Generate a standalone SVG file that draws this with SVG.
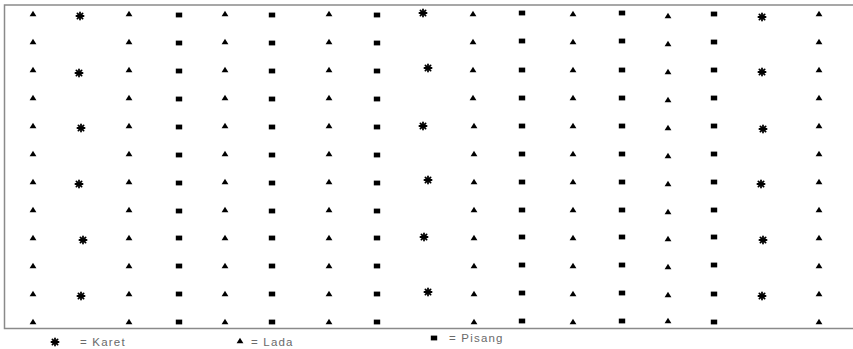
<svg xmlns="http://www.w3.org/2000/svg" xmlns:xlink="http://www.w3.org/1999/xlink" width="853" height="349" viewBox="0 0 853 349">
<style>
.frame{fill:none;stroke:#8a8a8a;stroke-width:1.5}
.lbl{font-family:"Liberation Sans",Arial,sans-serif;font-size:11.5px;fill:#6a6a6a;letter-spacing:1.2px}
</style>
<defs>
<path id="T" d="M0,-3.2 L3.4,2.3 L-3.4,2.3 Z" fill="#000"/>
<rect id="S" x="-3.2" y="-2.4" width="6.4" height="4.8" fill="#000"/>
<g id="K" stroke="#000" stroke-width="1.8" stroke-linecap="round">
<line x1="0" y1="-3.6" x2="0" y2="3.6"/>
<line x1="-3.6" y1="0" x2="3.6" y2="0"/>
<line x1="-2.6" y1="-2.6" x2="2.6" y2="2.6"/>
<line x1="-2.6" y1="2.6" x2="2.6" y2="-2.6"/>
</g>
</defs>
<rect width="853" height="349" fill="#fff"/>
<g id="frame">
<path class="frame" d="M853,5 L4.5,5 L4.5,328.5 L853,328.5"/>
</g>
<g id="col1">
<use href="#T" x="33" y="14"/><use href="#T" x="33" y="42"/><use href="#T" x="33" y="70"/><use href="#T" x="33" y="98"/><use href="#T" x="33" y="126"/><use href="#T" x="33" y="154"/><use href="#T" x="33" y="182"/><use href="#T" x="33" y="210"/><use href="#T" x="33" y="238"/><use href="#T" x="33" y="266"/><use href="#T" x="33" y="294"/><use href="#T" x="33" y="322"/>
</g>
<g id="col2">
<use href="#K" x="80" y="16"/><use href="#K" x="79" y="73"/><use href="#K" x="81" y="128"/><use href="#K" x="79" y="184"/><use href="#K" x="83" y="240"/><use href="#K" x="81" y="296"/>
</g>
<g id="col3">
<use href="#T" x="129" y="14"/><use href="#T" x="129" y="42"/><use href="#T" x="129" y="70"/><use href="#T" x="129" y="98"/><use href="#T" x="129" y="126"/><use href="#T" x="129" y="154"/><use href="#T" x="129" y="182"/><use href="#T" x="129" y="210"/><use href="#T" x="129" y="238"/><use href="#T" x="129" y="266"/><use href="#T" x="129" y="294"/><use href="#T" x="129" y="322"/>
</g>
<g id="col4">
<use href="#S" x="179" y="15"/><use href="#S" x="179" y="43"/><use href="#S" x="179" y="71"/><use href="#S" x="179" y="99"/><use href="#S" x="179" y="127"/><use href="#S" x="179" y="155"/><use href="#S" x="179" y="183"/><use href="#S" x="179" y="211"/><use href="#S" x="179" y="238"/><use href="#S" x="179" y="266"/><use href="#S" x="179" y="294"/><use href="#S" x="179" y="322"/>
</g>
<g id="col5">
<use href="#T" x="225" y="14"/><use href="#T" x="225" y="42"/><use href="#T" x="225" y="70"/><use href="#T" x="225" y="98"/><use href="#T" x="225" y="126"/><use href="#T" x="225" y="154"/><use href="#T" x="225" y="182"/><use href="#T" x="225" y="210"/><use href="#T" x="225" y="238"/><use href="#T" x="225" y="266"/><use href="#T" x="225" y="294"/><use href="#T" x="225" y="322"/>
</g>
<g id="col6">
<use href="#S" x="272" y="15"/><use href="#S" x="272" y="43"/><use href="#S" x="272" y="71"/><use href="#S" x="272" y="99"/><use href="#S" x="272" y="127"/><use href="#S" x="272" y="155"/><use href="#S" x="272" y="183"/><use href="#S" x="272" y="211"/><use href="#S" x="272" y="238"/><use href="#S" x="272" y="266"/><use href="#S" x="272" y="294"/><use href="#S" x="272" y="322"/>
</g>
<g id="col7">
<use href="#T" x="329" y="14"/><use href="#T" x="329" y="42"/><use href="#T" x="329" y="70"/><use href="#T" x="329" y="98"/><use href="#T" x="329" y="126"/><use href="#T" x="329" y="154"/><use href="#T" x="329" y="182"/><use href="#T" x="329" y="210"/><use href="#T" x="329" y="238"/><use href="#T" x="329" y="266"/><use href="#T" x="329" y="294"/><use href="#T" x="329" y="322"/>
</g>
<g id="col8">
<use href="#S" x="377" y="15"/><use href="#S" x="377" y="43"/><use href="#S" x="377" y="71"/><use href="#S" x="377" y="99"/><use href="#S" x="377" y="127"/><use href="#S" x="377" y="155"/><use href="#S" x="377" y="183"/><use href="#S" x="377" y="211"/><use href="#S" x="377" y="238"/><use href="#S" x="377" y="266"/><use href="#S" x="377" y="294"/><use href="#S" x="377" y="322"/>
</g>
<g id="col9">
<use href="#K" x="423" y="13"/><use href="#K" x="428" y="68"/><use href="#K" x="423" y="126"/><use href="#K" x="428" y="180"/><use href="#K" x="424" y="237"/><use href="#K" x="428" y="292"/>
</g>
<g id="col10">
<use href="#T" x="473" y="14"/><use href="#T" x="473" y="42"/><use href="#T" x="473" y="70"/><use href="#T" x="473" y="98"/><use href="#T" x="474" y="126"/><use href="#T" x="474" y="154"/><use href="#T" x="474" y="182"/><use href="#T" x="474" y="210"/><use href="#T" x="474" y="238"/><use href="#T" x="474" y="266"/><use href="#T" x="474" y="294"/><use href="#T" x="474" y="322"/>
</g>
<g id="col11">
<use href="#S" x="522" y="13"/><use href="#S" x="522" y="41"/><use href="#S" x="522" y="70"/><use href="#S" x="522" y="98"/><use href="#S" x="522" y="126"/><use href="#S" x="522" y="154"/><use href="#S" x="522" y="182"/><use href="#S" x="522" y="210"/><use href="#S" x="522" y="237"/><use href="#S" x="522" y="265"/><use href="#S" x="522" y="293"/><use href="#S" x="522" y="321"/>
</g>
<g id="col12">
<use href="#T" x="573" y="14"/><use href="#T" x="573" y="42"/><use href="#T" x="573" y="70"/><use href="#T" x="573" y="98"/><use href="#T" x="573" y="126"/><use href="#T" x="573" y="154"/><use href="#T" x="573" y="182"/><use href="#T" x="573" y="210"/><use href="#T" x="573" y="238"/><use href="#T" x="573" y="266"/><use href="#T" x="573" y="294"/><use href="#T" x="573" y="322"/>
</g>
<g id="col13">
<use href="#S" x="622" y="13"/><use href="#S" x="622" y="41"/><use href="#S" x="622" y="70"/><use href="#S" x="622" y="98"/><use href="#S" x="622" y="126"/><use href="#S" x="622" y="154"/><use href="#S" x="622" y="182"/><use href="#S" x="622" y="210"/><use href="#S" x="622" y="237"/><use href="#S" x="622" y="265"/><use href="#S" x="622" y="293"/><use href="#S" x="622" y="321"/>
</g>
<g id="col14">
<use href="#T" x="668" y="16"/><use href="#T" x="668" y="44"/><use href="#T" x="668" y="72"/><use href="#T" x="668" y="100"/><use href="#T" x="668" y="128"/><use href="#T" x="668" y="156"/><use href="#T" x="668" y="184"/><use href="#T" x="668" y="212"/><use href="#T" x="668" y="239"/><use href="#T" x="668" y="267"/><use href="#T" x="668" y="295"/><use href="#T" x="668" y="321"/>
</g>
<g id="col15">
<use href="#S" x="714" y="14"/><use href="#S" x="714" y="42"/><use href="#S" x="714" y="70"/><use href="#S" x="714" y="98"/><use href="#S" x="714" y="126"/><use href="#S" x="714" y="154"/><use href="#S" x="714" y="182"/><use href="#S" x="714" y="210"/><use href="#S" x="714" y="237"/><use href="#S" x="714" y="265"/><use href="#S" x="714" y="294"/><use href="#S" x="714" y="322"/>
</g>
<g id="col16">
<use href="#K" x="762" y="17"/><use href="#K" x="762" y="72"/><use href="#K" x="763" y="129"/><use href="#K" x="761" y="184"/><use href="#K" x="763" y="240"/><use href="#K" x="762" y="296"/>
</g>
<g id="col17">
<use href="#T" x="819" y="14"/><use href="#T" x="819" y="42"/><use href="#T" x="819" y="70"/><use href="#T" x="819" y="98"/><use href="#T" x="819" y="126"/><use href="#T" x="819" y="154"/><use href="#T" x="819" y="182"/><use href="#T" x="819" y="210"/><use href="#T" x="819" y="238"/><use href="#T" x="819" y="266"/><use href="#T" x="819" y="294"/><use href="#T" x="819" y="322"/>
</g>
<g id="legend-karet">
<use href="#K" x="55" y="342"/>
<text class="lbl" x="80" y="346">= Karet</text>
</g>
<g id="legend-lada">
<use href="#T" x="240" y="341"/>
<text class="lbl" x="251" y="346">= Lada</text>
</g>
<g id="legend-pisang">
<use href="#S" x="434" y="338"/>
<text class="lbl" x="449" y="342">= Pisang</text>
</g>
</svg>
